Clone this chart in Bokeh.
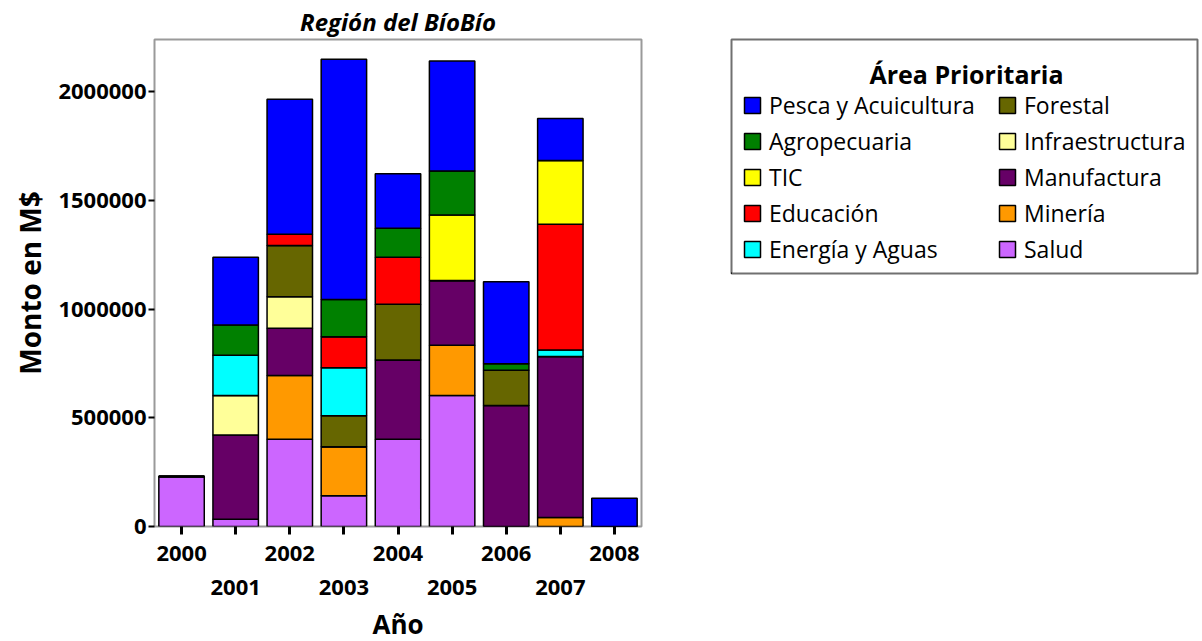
from bokeh.plotting import figure
from bokeh.layouts import row
from bokeh.models import (FixedTicker, LinearAxis, Legend, LegendItem, Range1d,
                          ColumnDataSource, BasicTickFormatter, Label)
from bokeh.embed import file_html
from bokeh.resources import INLINE

# ---- data ----
years = ["2000", "2001", "2002", "2003", "2004", "2005", "2006", "2007", "2008"]
salud = [230000, 33000, 401000, 142000, 401000, 602000, 0, 0, 0]
mineria = [0, 0, 293000, 225000, 0, 232000, 0, 41000, 0]
manufactura = [0, 388000, 218000, 0, 365000, 297000, 556000, 741000, 0]
infraestructura = [0, 181000, 145000, 0, 0, 0, 0, 0, 0]
forestal = [0, 0, 235000, 142000, 256000, 0, 163000, 0, 0]
energia = [0, 186000, 0, 221000, 0, 0, 0, 30000, 0]
educacion = [0, 0, 52000, 143000, 216000, 0, 0, 578000, 0]
tic = [0, 0, 0, 0, 0, 302000, 0, 293000, 0]
agropecuaria = [0, 139000, 0, 171000, 134000, 202000, 30000, 0, 0]
pesca = [0, 311000, 621000, 1105000, 250000, 506000, 377000, 194000, 130000]

# stacking order bottom -> top
series_names = ["Salud", "Minería", "Manufactura", "Infraestructura", "Forestal",
                "Energía y Aguas", "Educación", "TIC", "Agropecuaria", "Pesca y Acuicultura"]
series_values = [salud, mineria, manufactura, infraestructura, forestal,
                 energia, educacion, tic, agropecuaria, pesca]
series_colors = ["#CC66FF", "#FF9900", "#660066", "#FFFF99", "#666600",
                 "#00FFFF", "#FF0000", "#FFFF00", "#008000", "#0000FF"]
legend_col1 = ["Pesca y Acuicultura", "Agropecuaria", "TIC", "Educación", "Energía y Aguas"]
legend_col2 = ["Forestal", "Infraestructura", "Manufactura", "Minería", "Salud"]
legend_title = "Área Prioritaria"
y_ticks = [0, 500000, 1000000, 1500000, 2000000]

FONT = "Open Sans"

xpos = [i + 0.5 for i in range(len(years))]
data = {"x": xpos}
keys = []
for i, vals in enumerate(series_values):
    k = f"s{i}"
    keys.append(k)
    data[k] = vals
source = ColumnDataSource(data)

p = figure(frame_width=487, frame_height=487, output_backend="svg", toolbar_location=None,
           x_range=Range1d(0, len(years)), y_range=Range1d(0, 2240000),
           x_axis_location=None, min_border_left=154, min_border_right=10,
           min_border_top=37, min_border_bottom=0)

p.title.text = "Región del BíoBío"
p.title.align = "center"
p.title.text_font = FONT
p.title.text_font_size = "24px"
p.title.text_font_style = "bold italic"
p.title.text_color = "black"
p.title.standoff = 4

p.xgrid.visible = False
p.ygrid.visible = False
p.outline_line_color = "#9a9a9a"
p.outline_line_width = 2
p.background_fill_color = "white"
p.border_fill_color = "white"

renderers = p.vbar_stack(keys, x="x", width=0.84, source=source,
                         fill_color=series_colors, line_color="black", line_width=1.5)

# y axis
ya = p.yaxis[0]
ya.ticker = FixedTicker(ticks=y_ticks)
ya.formatter = BasicTickFormatter(use_scientific=False)
ya.axis_line_color = None
ya.major_tick_line_color = "black"
ya.major_tick_line_width = 2
ya.major_tick_in = 0
ya.major_tick_out = 6
ya.minor_tick_line_color = None
ya.major_label_text_font = FONT
ya.major_label_text_font_style = "bold"
ya.major_label_text_font_size = "22px"
ya.major_label_text_color = "black"
ya.major_label_standoff = 2
ya.axis_label = "Monto en M$"
ya.axis_label_text_font = FONT
ya.axis_label_text_font_style = "bold"
ya.axis_label_text_font_size = "28px"
ya.axis_label_text_color = "black"
ya.axis_label_standoff = 6

# x axis: two staggered rows
xa1 = LinearAxis(ticker=FixedTicker(ticks=xpos),
                 major_label_overrides={x: (years[i] if i % 2 == 0 else " ") for i, x in enumerate(xpos)})
xa1.axis_line_color = None
xa1.major_tick_line_color = "black"
xa1.major_tick_line_width = 3
xa1.major_tick_in = 0
xa1.major_tick_out = 8
xa1.minor_tick_line_color = None
xa1.major_label_text_font = FONT
xa1.major_label_text_font_style = "bold"
xa1.major_label_text_font_size = "22px"
xa1.major_label_text_color = "black"
xa1.major_label_standoff = 2
p.add_layout(xa1, "below")

odd = [x for i, x in enumerate(xpos) if i % 2 == 1]
xa2 = LinearAxis(ticker=FixedTicker(ticks=odd),
                 major_label_overrides={x: years[i] for i, x in enumerate(xpos) if i % 2 == 1})
xa2.axis_line_color = None
xa2.major_tick_line_color = None
xa2.minor_tick_line_color = None
xa2.major_tick_in = 0
xa2.major_tick_out = 0
xa2.major_label_text_font = FONT
xa2.major_label_text_font_style = "bold"
xa2.major_label_text_font_size = "22px"
xa2.major_label_text_color = "black"
xa2.major_label_standoff = 10
xa2.axis_label = "Año"
xa2.axis_label_text_font = FONT
xa2.axis_label_text_font_style = "bold"
xa2.axis_label_text_font_size = "26px"
xa2.axis_label_text_color = "black"
xa2.axis_label_standoff = 8
p.add_layout(xa2, "below")

# ---- legend panel (separate figure, its frame is the legend box) ----
LW, LH = 466, 234
p2 = figure(frame_width=LW, frame_height=LH, output_backend="svg", toolbar_location=None,
            x_range=Range1d(0, LW), y_range=Range1d(0, LH),
            x_axis_location=None, y_axis_location=None,
            min_border_left=80, min_border_right=2, min_border_top=37, min_border_bottom=4)
p2.xgrid.visible = False
p2.ygrid.visible = False
p2.outline_line_color = "#707070"
p2.outline_line_width = 2
p2.background_fill_color = "white"
p2.border_fill_color = "white"

swatch = {}
for n, c in zip(series_names, series_colors):
    # glyph kept outside the visible range: only its legend swatch shows
    swatch[n] = p2.vbar(x=[-1000], top=[0], width=1, fill_color=c,
                        line_color="black", line_width=1.5)

p2.add_layout(Label(x=LW / 2 + 2, y=200, text=legend_title, text_align="center",
                    text_baseline="middle", text_font=FONT, text_font_style="bold",
                    text_font_size="25px", text_color="black"))


def make_legend(names, loc):
    lg = Legend(items=[LegendItem(label=n, renderers=[swatch[n]]) for n in names],
                location=loc, orientation="vertical")
    lg.label_text_font = FONT
    lg.label_text_font_size = "23px"
    lg.label_text_color = "black"
    lg.glyph_width = 20
    lg.glyph_height = 20
    lg.label_height = 20
    lg.label_standoff = 7
    lg.spacing = 4
    lg.padding = 0
    lg.margin = 0
    lg.border_line_color = None
    lg.background_fill_alpha = 0
    return lg


p2.add_layout(make_legend(legend_col1, (11, 8)), "center")
p2.add_layout(make_legend(legend_col2, (266, 8)), "center")

layout = row(p, p2, spacing=0)
open("out.html", "w").write(file_html(layout, INLINE))
